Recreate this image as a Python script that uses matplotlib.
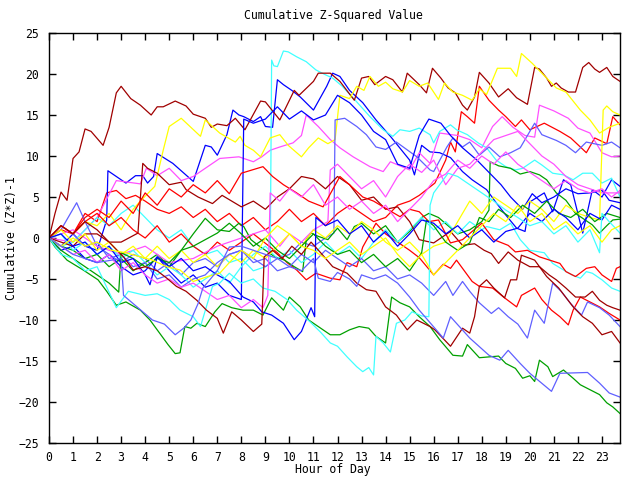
import matplotlib
matplotlib.use('Agg')
import matplotlib.pyplot as plt

# (hour, cumulative value) pairs, one list per day-line
dr1 = [(0, 0), (0.25, 3), (0.5, 5.6), (0.75, 4.6), (1, 9.7), (1.25, 10.5), (1.5, 13.3), (1.75, 13), (2.25, 11.3), (2.5, 13.5),
       (2.8, 17.7), (3, 18.5), (3.4, 17), (3.8, 16.2), (4.25, 15), (4.5, 16), (4.75, 16), (5.25, 16.7), (5.7, 16.1), (6, 15.1),
       (6.5, 14.6), (6.75, 13.5), (7, 13.9), (7.4, 13.7), (7.75, 14.6), (8.15, 13.2), (8.8, 16.7), (9, 16.6), (9.6, 14.4), (10.2, 18),
       (10.4, 17.4), (11, 19.1), (11.2, 20.1), (11.7, 20.1), (12.1, 19.1), (12.7, 16.8), (13, 19.5), (13.3, 19.7), (13.55, 18.7), (14, 19.7),
       (14.3, 19.3), (14.7, 17.8), (14.9, 20.1), (15.4, 18.7), (15.7, 17.7), (15.95, 20.7), (16.3, 19.5), (16.6, 18.3), (16.9, 17.7), (17.2, 16.2),
       (17.4, 15.6), (17.7, 17.2), (17.9, 20.2), (18.3, 18.9), (18.7, 17.2), (19.1, 18.2), (19.45, 17.1), (19.9, 16.3), (20.2, 20.8), (20.4, 20.6),
       (20.7, 19.5), (20.9, 18.5), (21.1, 18.9), (21.3, 18.3), (21.6, 17.8), (21.9, 17.8), (22.2, 20.8), (22.45, 21.4), (22.7, 20.6), (22.9, 20.2),
       (23.2, 20.8), (23.45, 19.7), (23.75, 19.1)]
dr2 = [(0, 0), (0.5, -0.5), (1, -1), (1.5, 0.5), (2, 0.5), (2.5, -0.5), (3, -0.5), (3.7, 0.6), (3.9, 9.1), (4.1, 8.5), (4.5, 7.9),
       (5, 6.5), (5.5, 6.8), (5.7, 5.9), (6.2, 5), (6.8, 4.2), (7.2, 5.2), (7.6, 4.5), (8, 3.8), (8.5, 4.5), (9, 3.5), (9.5, 5),
       (10, 6), (10.5, 7.5), (11, 7.2), (11.5, 6), (12, 7.5), (12.5, 6.5), (13, 4.6), (13.5, 5), (14, 3.5), (14.5, 3.8), (15, 2),
       (15.4, -0.2), (16, -0.6), (16.7, 0.8), (17.2, -0.9), (17.7, -0.7), (18.1, -1.5), (18.4, -1.9), (18.7, -3.1), (19.1, -1.7),
       (19.5, -2.7), (20, -3.5), (20.4, -3.5), (20.8, -4.5), (21.1, -5.1), (21.5, -6.1), (21.9, -7.2), (22.3, -7.2), (22.6, -6.5),
       (22.9, -7.6), (23.2, -8.2), (23.45, -8.5), (23.75, -8.8)]
dr3 = [(0, 0), (0.5, 1.5), (1, 0.5), (1.5, 2), (2, 1), (2.5, -0.5), (3.1, -2.3), (3.5, -3.9), (4, -3.5), (4.5, -4), (4.9, -4.9),
       (5.3, -5.9), (5.7, -6.5), (6.15, -7.6), (6.55, -8.8), (7, -9.8), (7.25, -11.6), (7.6, -9), (8, -10), (8.5, -11.4), (8.85, -10.5),
       (8.95, -2.3), (9.3, -1.5), (9.7, -2.5), (10.1, -1), (10.5, -2), (10.9, -0.5), (11.3, -1.8), (11.8, -3.5), (12.4, -4.3),
       (12.8, -5.5), (13.2, -6.3), (13.6, -6.5), (14, -8.4), (14.45, -9.4), (14.9, -11.2), (15.3, -10), (15.85, -10.8), (16.05, -11.2),
       (16.7, -13.2), (17.2, -11), (17.5, -11.6), (17.7, -9.6), (17.9, -5.9), (18.2, -5.1), (18.5, -6.1), (18.95, -7.3), (19.2, -5.1),
       (19.45, -5.1), (19.65, -2.1), (20.2, -2.7), (20.7, -4.7), (21.2, -6.1), (21.8, -8.4), (22.2, -9.6), (22.6, -10.4), (23, -11.8),
       (23.4, -11.4), (23.75, -12.8)]

r1 = [(0, 0), (0.5, 1.5), (1, 0.5), (1.5, 3), (2, 2), (2.4, 5.5), (2.8, 5.8), (3.2, 4.8), (3.6, 5.2), (4, 4.5), (4.5, 3.5),
      (5, 3), (5.5, 3.8), (6, 2.5), (6.5, 3.5), (7, 2), (7.5, 3), (8, 1.5), (8.5, 2.5), (9, 1), (9.5, 2), (10, 3.5), (10.5, 2),
      (11, 3), (11.5, 1.5), (12, 3), (12.5, 4), (13, 3), (13.5, 2), (14, 2.5), (14.5, 4), (15, 4.5), (15.4, 5.2), (16.05, 6.7),
      (16.5, 9.5), (16.7, 11.7), (16.9, 10.5), (17.15, 15.4), (17.4, 14.8), (17.7, 14), (17.9, 18.5), (18.3, 16.8), (18.7, 15.6),
      (19, 14.8), (19.4, 13.6), (19.65, 14.4), (20, 13.2), (20.6, 14), (21.25, 13), (21.7, 12.2), (22.1, 11.1), (22.35, 10.4),
      (22.7, 12.2), (23.2, 11.5), (23.45, 14.8), (23.75, 13.8)]
r2 = [(0, 0), (0.5, 1), (1, 0.5), (1.5, 2), (2, 3), (2.5, 1.5), (3, 2.5), (3.5, 1), (4, 0), (4.5, 1.5), (5, -0.5), (5.5, 0.5),
      (6, -1), (6.5, -2), (7, -0.5), (7.5, -1.5), (8, -0.5), (8.5, 0.5), (9.2, -1.1), (9.5, -1.8), (9.9, -3), (10.3, -3.9),
      (10.7, -5.1), (11.1, -4.3), (11.7, -4.9), (12.1, -5.1), (12.4, -3), (12.8, -3.5), (13.05, -1.1), (13.6, 1.8), (14, 0.5),
      (14.5, -0.5), (15, -1.5), (15.4, -2.4), (16, -4.5), (16.4, -3.2), (16.7, -3.7), (16.95, -2.7), (17.6, -5.3), (17.9, -5.9),
      (18.45, -6.1), (18.95, -7.3), (19.45, -8.4), (19.65, -7), (20.2, -6.1), (20.5, -7.5), (20.9, -8.8), (21.25, -9.6),
      (21.6, -10.6), (21.8, -8.8), (22.1, -7.2), (22.5, -7.8), (22.9, -8.4), (23.3, -9.2), (23.75, -10)]
r3 = [(0, 0), (0.5, 1.5), (1, 0.5), (1.5, 2.5), (2, 3.5), (2.5, 2.5), (3, 4.5), (3.5, 3), (4, 5.5), (4.5, 4), (5, 6),
      (5.5, 5), (6, 6.5), (6.5, 5.5), (7, 7), (7.5, 5.4), (8, 7.9), (8.9, 8.7), (9.3, 7.5), (9.75, 6.5), (10.3, 5.5), (10.8, 4.5),
      (11.4, 3.8), (12.1, 7.5), (12.5, 6.5), (13.05, 5), (13.5, 4.5), (13.9, 3.8), (14.6, 2.6), (15, 3.5), (15.4, 3.2), (15.8, 2),
      (16.2, 2.2), (16.7, -0.6), (17.2, -0.2), (18, 1.8), (18.5, -0.2), (19.1, -0.9), (19.4, -1.7), (19.9, -1.5), (20.4, -2.3),
      (21.25, -3.1), (21.5, -4.1), (21.9, -4.7), (22.35, -3.7), (22.7, -3.5), (23, -4.5), (23.4, -5.3), (23.6, -3.7), (23.75, -3.5)]

g1 = [(0, 0), (0.25, -1.1), (0.75, -2.7), (1.42, -3.9), (2.04, -5.1), (2.4, -6.5), (2.8, -8.2), (3.2, -7.8), (3.8, -8.8),
      (4.2, -10), (4.6, -11.6), (4.95, -13), (5.25, -14.1), (5.45, -14), (5.65, -10.8), (5.9, -11), (6.15, -10.4), (6.5, -10.8),
      (6.9, -9), (7.2, -8), (7.6, -8.5), (8.07, -8.8), (8.5, -8.8), (8.9, -9.4), (9.26, -7.3), (9.75, -8.8), (10, -7.2),
      (10.45, -8.4), (10.8, -10), (11.3, -11), (11.7, -11.8), (12.1, -11.8), (12.5, -11.2), (12.9, -10.8), (13.3, -11), (13.6, -12),
      (14, -12.8), (14.25, -7.2), (14.6, -7.9), (15, -8.4), (15.4, -9.6), (15.85, -10.8), (16.25, -12.4), (16.8, -14.3),
      (17.2, -14.4), (17.4, -13), (17.9, -14.6), (18.3, -14.5), (18.7, -14.4), (19, -15.3), (19.4, -15.9), (19.7, -17.1),
      (20, -16.8), (20.2, -17.5), (20.4, -14.9), (20.75, -15.7), (20.95, -16.9), (21.4, -16.1), (21.8, -17.1), (22.1, -17.9),
      (22.5, -18.5), (22.9, -19.1), (23.2, -20.1), (23.45, -20.6), (23.75, -21.4)]
g2 = [(0, 0), (0.5, -1), (1, -1.5), (1.5, -2.5), (2, -2), (2.5, -3.5), (3, -2.5), (3.5, -4), (4, -3), (4.5, -2), (5, -3.5),
      (5.5, -1.5), (6, 0.5), (6.5, 2.4), (7, 1), (7.5, 0.8), (7.9, 1.8), (8.1, 1.4), (8.4, -0.2), (8.7, -0.9), (9, -1.5),
      (9.4, -2.3), (9.8, -2.7), (10.2, -3.5), (10.55, -4.1), (10.7, -0.2), (10.9, 0.6), (11.2, 0.2), (11.6, -0.2), (12, 1.2),
      (12.4, -0.2), (12.7, 1.4), (13, 1.8), (13.5, 0.5), (14, 1.5), (14.5, -0.5), (15, 0.8), (15.5, 2.5), (15.8, 3), (16.2, 2.5),
      (16.6, 1.5), (17, 0.5), (17.5, 1), (18, 2), (18.3, 3.4), (18.35, 9.3), (18.7, 8.8), (19.2, 8.5), (19.6, 7.8), (20, 8.1),
      (20.4, 7.7), (20.7, 7.1), (21.1, 5.5), (21.5, 4.6), (21.9, 3), (22.3, 2.2), (22.6, 1.6), (22.9, 0.6), (23.2, 1.5),
      (23.45, 2.2), (23.75, 2.3)]
g3 = [(0, 0), (0.5, -1.5), (1, -2.5), (1.5, -3.5), (2, -4.5), (2.5, -5.5), (2.9, -6.6), (3, -1.8), (3.5, -2.5), (4, -3.5),
      (4.5, -2.5), (5, -3), (5.5, -1.5), (6, -1), (6.5, -0.2), (7, 0.6), (7.5, 1.8), (8, 0.5), (8.5, -1), (9, 0), (9.5, -1.5),
      (10, -2.5), (10.5, -1), (11, 0.5), (11.5, -1), (12, -2), (12.5, -1.5), (13, -3), (13.5, -2), (14, -3.5), (14.5, -2.5),
      (15, -4), (15.5, -1.8), (15.7, 2.2), (16, 1.5), (16.5, -0.5), (17, -1.5), (17.5, -0.6), (17.9, 2.5), (18.3, 2), (18.7, 3.5),
      (19.2, 2.5), (19.7, 4), (20.2, 3), (20.7, 4.5), (21.2, 3), (21.7, 2.5), (22.2, 3.5), (22.7, 2), (23.2, 3), (23.75, 2.5)]

b1 = [(0, 0), (0.5, -1), (1, 0.5), (1.5, -1), (2, -1.5), (2.4, 2.2), (2.45, 8.2), (2.8, 7.5), (3.2, 6.7), (3.6, 7.6),
      (3.9, 7.6), (4.1, 6.7), (4.35, 7.5), (4.5, 10.3), (5.15, 9.1), (6, 6.9), (6.5, 11.3), (6.75, 11.1), (7, 10.1), (7.4, 12.6),
      (7.65, 15.6), (7.9, 15), (8.1, 14.8), (8.5, 14.2), (8.8, 14.8), (9, 13.6), (9.3, 13.5), (9.5, 19.3), (9.75, 18.7),
      (10.1, 18), (10.45, 17.2), (11, 15.6), (11.55, 18.5), (11.8, 20.1), (12.1, 19.7), (12.5, 18), (13.05, 16.5), (13.6, 14.4),
      (14.2, 12.4), (15, 9.5), (15.2, 7.7), (15.5, 11.3), (15.85, 10.5), (16.25, 10.4), (16.7, 9.8), (17.2, 8.1), (17.6, 7.1),
      (18.2, 5.9), (18.6, 4.3), (19, 2.8), (19.45, 1.2), (19.8, 0.8), (20, 4.4), (20.6, 5.5), (20.95, 3.2), (21.4, 7.1),
      (21.7, 6.5), (22.2, 0.6), (22.6, 5.9), (23, 5), (23.4, 7.1), (23.75, 6.3)]
b2 = [(0, 0), (0.5, -1.5), (1, -1), (1.5, -2.5), (2, -3), (2.5, -2), (3, -3.5), (3.5, -4.5), (4, -4), (4.5, -2.3), (5, -4),
      (5.5, -5.5), (6, -4.5), (6.5, -6), (7, -5.5), (7.5, -7), (8, -7.5), (8.1, 14.5), (8.5, 14), (9, 14.5), (9.5, 16), (10, 14.5),
      (10.5, 15.5), (11, 14.4), (11.5, 15), (12, 17.4), (12.5, 16.5), (13, 15), (13.5, 13), (14, 12), (14.5, 9), (15, 8.5),
      (15.4, 12.5), (15.8, 14.5), (16.3, 14), (16.7, 12.5), (17.2, 11), (17.8, 9.5), (18.3, 8), (18.8, 6.5), (19.2, 5),
      (19.7, 3.5), (20.1, 5.4), (20.5, 4.3), (21, 5), (21.5, 6), (22, 5.4), (22.5, 5.5), (23, 5.8), (23.3, 4.6), (23.75, 4.3)]
b3 = [(0, 0), (0.5, 0.5), (1, -1), (1.5, -0.5), (2, -2), (2.5, -1), (3, -3), (3.5, -2.5), (4, -4.5), (4.2, -5.7), (4.5, -2.3),
      (5, -3.5), (5.5, -2.5), (6, -4), (6.5, -3.5), (7, -4.5), (7.5, -5.3), (8.07, -7.2), (8.5, -7.8), (8.85, -9), (9.26, -9.4),
      (9.75, -10.4), (10.2, -12.4), (10.5, -11.4), (10.9, -8.5), (11.05, -9.6), (11.1, 2.5), (11.5, 1.5), (12, 2.2), (12.5, 0.5),
      (13, 1.5), (13.5, -0.5), (14, 0.8), (14.5, -1), (15, 0.5), (15.5, 2.2), (16, 1.8), (16.5, 0.5), (17, 1.5), (17.5, 0),
      (18, 1), (18.5, -0.5), (19, 0.8), (19.5, 1.2), (20, 3), (20.5, 2), (21, 3.5), (21.5, 2.5), (22, 1), (22.5, 3), (23, 2.2),
      (23.4, 4), (23.75, 3.5)]

m1 = [(0, 0), (1, -0.5), (1.5, 1), (2, 2.5), (2.8, 7), (3.3, 6.8), (3.8, 6.6), (4.05, 8.5), (4.5, 7.6), (5, 8.5), (5.5, 7),
      (6, 7.5), (6.5, 8.5), (7.1, 9.7), (7.9, 9.9), (8.5, 9.3), (8.85, 9.9), (9.2, 10.7), (9.6, 11.1), (10.15, 11.6), (10.5, 12.5),
      (10.7, 15), (11.2, 13.6), (11.7, 12), (12.1, 11), (12.65, 9.9), (13.35, 8.7), (13.9, 8.1), (14.2, 9.3), (15, 8.3),
      (15.4, 10.4), (15.85, 9.1), (16.25, 12.8), (17, 12.5), (17.5, 12), (18, 11), (18.45, 13.6), (18.85, 14.8), (19.3, 13.5),
      (19.8, 12.5), (20.2, 12.3), (20.4, 16.2), (21, 15.5), (21.6, 14.6), (22, 13.4), (22.5, 12.8), (23, 10.4), (23.4, 9.9),
      (23.75, 10)]
m2 = [(0, 0), (1, 1), (2, -1), (3, -2), (4, -1), (5, -3), (6, -2.5), (7, -1), (8, 0), (9, 1), (9.6, -1), (10, 0.5),
      (10.5, -0.5), (11, 1), (11.6, 2), (11.7, 8.3), (12, 9), (12.5, 7.5), (13, 6), (13.5, 7), (14, 5), (14.5, 7.5), (15, 9),
      (15.5, 8), (16, 9.5), (16.5, 6.5), (17, 8.5), (17.5, 9), (18, 10.5), (18.5, 12), (19, 12.5), (19.5, 13), (20, 11.5),
      (20.5, 10), (21, 9), (21.5, 7.5), (22, 6.5), (22.5, 6), (23, 5.5), (23.75, 5.5)]
m3 = [(0, 0), (0.5, -1), (1, -2), (1.5, -1.5), (2, -3), (2.5, -2), (3, -4), (3.5, -3), (4, -4.5), (4.5, -5.5), (5, -5),
      (5.5, -6), (6, -5.5), (6.5, -6.5), (7, -7.5), (7.5, -7), (8, -8.5), (8.5, -7.5), (8.9, -8.5), (9.1, -7), (9.2, 5.5),
      (9.6, 4.5), (10, 6), (10.5, 5), (11, 6.5), (11.5, 4), (12, 5), (12.5, 3.5), (13, 4.5), (13.5, 3), (14, 4), (14.5, 2),
      (15, 3.5), (15.5, 5), (16, 7), (16.5, 7.8), (17, 9.5), (17.5, 8.5), (18, 10), (18.5, 9), (19, 10.5), (19.5, 9), (20, 8),
      (20.5, 7), (21, 6), (21.5, 7), (22, 6), (22.5, 5.5), (23, 6), (23.4, 5), (23.75, 5.8)]

c1 = [(0, 0), (0.5, -1), (1, -0.5), (1.5, 1), (2, 2.5), (2.5, 1.5), (3, 3), (3.5, 4), (4, 2.5), (4.5, 1), (5, 0), (5.5, 1),
      (6, -1), (6.5, -2), (7, -1.5), (7.5, -3), (8, -2.5), (8.5, -4), (9, -3.5), (9.2, -3), (9.26, 21.7), (9.35, 21),
      (9.5, 20.9), (9.75, 22.8), (9.95, 22.7), (10.3, 22.1), (10.7, 21.5), (11.1, 20.5), (11.5, 19.9), (11.8, 19.5), (12.2, 18.5),
      (12.8, 16.6), (13.35, 14.8), (13.9, 13.2), (14.3, 12.4), (14.6, 13.2), (15, 13), (15.4, 13.4), (15.85, 12.6), (16, 11.6),
      (16.25, 13), (16.7, 13.8), (16.95, 13.2), (17.4, 12.6), (17.85, 11.6), (18.2, 11), (18.6, 9.5), (19, 8.7), (19.4, 8.3),
      (19.7, 8.5), (20.2, 9.5), (20.5, 8.9), (20.95, 7.9), (21.4, 7.7), (21.8, 7.1), (22.2, 7.9), (22.6, 7.9), (23, 6.7),
      (23.4, 7.3), (23.75, 5)]
c2 = [(0, 0), (0.5, 0.5), (1, -1.5), (1.5, -0.5), (2, -2), (2.5, -1), (3, -2.5), (3.5, -1.5), (4, -3), (4.5, -4.5), (5, -3.5),
      (5.5, -4.5), (6, -6), (6.5, -5), (7, -4), (7.5, -5.5), (8, -3.5), (8.5, -2), (9, -1), (9.5, -2.5), (10, -1.5), (10.5, -3),
      (11, -2), (11.5, -0.5), (12, -2), (12.5, -1), (13, -2.5), (13.5, -0.5), (14, 1), (14.5, -0.5), (15, 1), (15.5, 2.5),
      (16, 1), (16.5, 2), (17, 0.5), (17.5, 2), (18, 1), (18.2, 1.4), (18.75, 1), (19.2, 1.8), (19.6, -0.2), (20, -1.5),
      (20.4, -1.7), (20.6, -1.8), (20.95, -3.1), (21.4, -3.9), (21.75, -4.5), (22.1, -4.9), (22.35, -4.1), (22.6, -4.3),
      (23, -5.1), (23.4, -6.1), (23.75, -6.5)]
c3 = [(0, 0), (0.5, -2), (1, -2.5), (1.5, -4), (2, -3.5), (2.8, -8.5), (3.3, -6.5), (4, -7), (4.5, -6.8), (5, -7.5),
      (5.45, -8.8), (6, -9.6), (6.3, -10.8), (6.8, -5.9), (7.1, -5.5), (7.5, -4.3), (8, -5.5), (8.5, -5), (8.9, -6.1), (9.4, -6.5),
      (9.9, -7.5), (10.3, -8.8), (10.85, -10.2), (11.3, -11.5), (11.7, -12.8), (12, -13.2), (12.4, -14.5), (12.8, -15.7),
      (13.05, -16.3), (13.3, -15.8), (13.5, -16.7), (13.6, -12), (13.9, -12.8), (14.2, -13.9), (14.45, -10.4), (14.8, -10),
      (15.1, -9), (15.5, -9.5), (15.8, -9.6), (15.85, 4), (16, 5.5), (16.6, 7.9), (17, 7.5), (17.5, 6.5), (18, 5.5), (18.5, 4.5),
      (19, 3.4), (19.5, 2.5), (20, 1.5), (20.5, 2), (21, 0.5), (21.5, 1.5), (22, -0.5), (22.5, 1), (22.9, -1.8), (23, 3),
      (23.3, 2), (23.75, 0.6)]

y1 = [(0, 0), (0.5, 1.5), (1, 0.5), (1.5, 2), (2, 1.5), (2.5, 3), (3, 1), (3.5, 3.5), (3.8, 4.5), (4.4, 6.3), (4.75, 10.7),
      (5, 13.6), (5.5, 14.6), (5.9, 13.5), (6.3, 12.4), (6.5, 14.4), (7.1, 12.8), (7.75, 11.7), (7.95, 12.4), (8.15, 11.3),
      (8.5, 10.7), (8.8, 9.9), (9.2, 12.2), (9.6, 12.6), (9.95, 11.3), (10.5, 9.9), (10.8, 11), (11.2, 12.2), (11.6, 11.5),
      (11.9, 12), (12.1, 17.4), (12.5, 17), (12.8, 18.5), (13.1, 18), (13.35, 19.7), (13.7, 18.5), (14, 19), (14.3, 18.2),
      (14.7, 17.8), (15, 19.2), (15.4, 18.5), (15.75, 18.9), (16.2, 16.9), (16.45, 18.9), (16.8, 17.8), (17.2, 17.4), (17.6, 16.8),
      (17.9, 18.2), (18.2, 17.5), (18.65, 20.7), (19.2, 20.7), (19.45, 19.7), (19.65, 22.5), (20.1, 21.3), (20.5, 20.1),
      (21.1, 18.3), (21.5, 17.8), (22.1, 15.6), (22.5, 14.4), (22.9, 12.8), (23.3, 13.5), (23.75, 14)]
y2 = [(0, 0), (0.5, 1), (1, -0.5), (1.5, 0.5), (2, -1.5), (2.5, -0.5), (3, -2), (3.5, -1), (4, -2.5), (4.5, -1), (5, -2.5),
      (5.5, -1.5), (6, -3), (6.5, -2), (7, -3.5), (7.5, -2), (8, -3), (8.5, -1.5), (9, -2.5), (9.5, -1), (10, 0.5), (10.5, -1),
      (11, 1), (11.5, 0), (12, 1.5), (12.5, 0.5), (13, 2), (13.5, 1), (14, -0.5), (14.5, -1.5), (15, -0.5), (15.5, -2), (16, -1),
      (16.5, -0.5), (17, 2), (17.5, 4.5), (18, 3), (18.5, 5), (19, 4), (19.5, 3), (20, 4.5), (20.5, 3.5), (21, 2), (21.5, 4),
      (22, 3), (22.5, 2.5), (22.9, 2.2), (23.05, 15.6), (23.2, 16.1), (23.45, 15.4), (23.75, 15)]
y3 = [(0, 0), (0.5, -1), (1, 0), (1.5, -1), (2, -0.5), (2.6, -1.5), (3.2, -1.8), (3.8, -2.3), (4.3, -2.7), (4.9, -3.5),
      (5.45, -3.9), (6, -5.3), (6.6, -4.7), (7.1, -4.3), (7.5, -3), (8, -1.5), (8.5, -2.5), (9, 0), (9.5, 1.5), (10, 0.5),
      (10.5, -1), (11, -1.5), (11.5, -2.5), (12, -1.5), (12.5, -0.5), (13, -2), (13.5, -1), (14, 0), (14.5, -2), (15, -3.5),
      (15.5, -2), (16, -4.5), (16.5, -3), (17, -1.5), (17.5, 0), (18, 1.5), (18.5, 3), (19, 2), (19.5, 4), (20, 2), (20.5, 3),
      (21, 1), (21.5, 2), (22, 0.5), (22.5, 1.5), (23, -0.5), (23.4, 1), (23.75, 1.5)]

lb1 = [(0, 0), (0.5, 1), (1.15, 4.3), (1.5, 2), (2, -1), (2.5, -2), (3, -3), (3.5, -2), (4, -2.5), (4.5, -4), (5, -3),
       (5.5, -4.5), (6, -3), (6.5, -2.5), (7, -3.5), (7.5, -2), (8, -1.5), (8.5, -2.5), (9, -3.5), (9.5, -2.5), (10, -2),
       (10.5, -0.5), (11, -1), (11.5, 0), (11.85, 0.6), (11.9, 14.4), (12.3, 14.6), (12.8, 13.6), (13.2, 12.6), (13.6, 11.1),
       (14, 10.8), (14.45, 11.7), (15.3, 9.9), (15.85, 8.3), (16, 8.1), (16.55, 11.1), (16.8, 12.2), (17.2, 11.1), (17.5, 11.7),
       (17.9, 10.1), (18.3, 11.1), (18.75, 9.9), (19.2, 10.4), (19.6, 11), (20.2, 14), (20.5, 12.6), (21.1, 11.9), (21.5, 11.3),
       (21.9, 10.4), (22.35, 11.7), (23, 11.3), (23.4, 11.7), (23.75, 11)]
lb2 = [(0, 0), (0.5, 1.5), (1, 0.5), (1.5, -1), (2, -0.5), (2.5, -2.5), (3, -2), (3.5, -3.5), (4, -3), (4.5, -5), (5, -4.5),
       (5.5, -6), (6, -5), (6.5, -4.5), (7, -3), (7.5, -2), (8, -1.5), (8.5, -3), (9, -2.5), (9.5, -4), (10, -3.5), (10.5, -2),
       (11, -3), (11.5, -1.5), (12, -2.5), (12.5, -3.5), (13, -2.5), (13.5, -4), (14, -3.5), (14.5, -5), (15, -4.5), (15.4, -5.3),
       (15.5, -5.5), (16, -7), (16.5, -5.3), (16.8, -7), (17.2, -5.3), (17.5, -6.5), (17.9, -7.9), (18.4, -9.2), (18.7, -8.5),
       (19.1, -9.6), (19.5, -10.5), (19.9, -12.2), (20.2, -8.8), (20.6, -10.4), (20.95, -5.5), (21.3, -6.5), (21.7, -8),
       (22.15, -9.4), (22.4, -7.8), (22.9, -8.5), (23.3, -9.4), (23.75, -10.8)]
lb3 = [(0, 0), (1, -2), (2, -3), (3, -2.5), (3.1, -7), (3.7, -8.5), (4.3, -10), (4.8, -10.5), (5.25, -11.8), (5.6, -11),
       (5.9, -10), (6.2, -8), (6.4, -6.1), (7, -4), (7.5, -1.1), (8, -1), (8.5, -1.5), (9, -2), (9.5, -2.5), (10, -3.5),
       (10.5, -4), (11, -2.5), (11.2, -4.9), (11.7, -5.3), (12, -4.2), (12.5, -5), (12.8, -5.9), (13, -4.5), (13.5, -5),
       (14, -4.5), (14.5, -5.5), (15, -7.2), (15.4, -8.8), (16.4, -12.2), (16.7, -9.6), (17.5, -12.2), (18.3, -14.3),
       (18.75, -14.9), (19.1, -13.7), (19.6, -15.3), (20, -16.5), (20.9, -18.7), (21.25, -16.5), (22.4, -16.4), (22.9, -17.7),
       (23.3, -18.9), (23.75, -19.4)]

# old gnuplot png palette
RED, GREEN, BLUE, MAGENTA = '#ff0000', '#00a000', '#0000ff', '#ff50ff'
CYAN, DARKRED, YELLOW, LIGHTBLUE = '#40ffff', '#a00000', '#ffff00', '#6060ff'

days = [(r1, RED), (g1, GREEN), (b1, BLUE), (m1, MAGENTA), (c1, CYAN), (dr1, DARKRED), (y1, YELLOW), (lb1, LIGHTBLUE),
        (r2, RED), (g2, GREEN), (b2, BLUE), (m2, MAGENTA), (c2, CYAN), (dr2, DARKRED), (y2, YELLOW), (lb2, LIGHTBLUE),
        (r3, RED), (g3, GREEN), (b3, BLUE), (m3, MAGENTA), (c3, CYAN), (dr3, DARKRED), (y3, YELLOW), (lb3, LIGHTBLUE)]

plt.rcParams['font.family'] = 'DejaVu Sans Mono'
fig = plt.figure(figsize=(6.4, 4.8), dpi=100)
ax = fig.add_axes([49 / 640, 37 / 480, 571 / 640, 410 / 480])

for pts, col in days:
    hrs = [p[0] for p in pts]
    vals = [p[1] for p in pts]
    ax.plot(hrs, vals, color=col, lw=0.9)

ax.set_xlim(0, 23.75)
ax.set_ylim(-25, 25)
ax.set_xticks(range(24))
ax.set_yticks(range(-25, 26, 5))
ax.tick_params(direction='in', length=5, width=1, top=True, right=True, labelsize=8.3, colors='black')
ax.tick_params(axis='x', pad=6)
ax.tick_params(axis='y', pad=7)
for s in ax.spines.values():
    s.set_linewidth(1)

fig.text(333 / 640, 1 - 16 / 480, 'Cumulative Z-Squared Value', ha='center', va='center', fontsize=8.3)
fig.text(333 / 640, 1 - 470 / 480, 'Hour of Day', ha='center', va='center', fontsize=8.3)
fig.text(12 / 640, 1 - 238 / 480, 'Cumulative (Z*Z)-1', ha='center', va='center', rotation=90, fontsize=8.3)

fig.savefig('out.png', dpi=100)
